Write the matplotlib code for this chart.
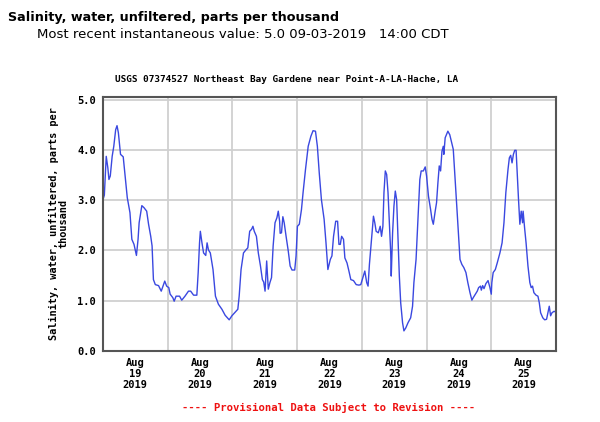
import numpy as np
import pandas as pd
import matplotlib
matplotlib.use("Agg")
import matplotlib.pyplot as plt
import matplotlib.dates as mdates

# hours since 2019-08-19 00:00 CDT and salinity (ppt)
hours = [0, 0.5, 1.2, 1.8, 2.2, 2.7, 3.4, 4.0, 4.7, 5.2, 5.7, 6.5, 7.5, 8.2, 9.0, 10.0, 10.7,
         11.5, 12.4, 13.0, 13.4, 14.4, 15.2, 16.2, 16.9, 17.7, 18.2, 18.7, 19.4, 20.6, 21.6,
         22.9, 23.6, 24.4, 24.9, 25.9, 26.4, 27.1, 28.4, 29.2, 30.4, 31.7, 32.5, 33.6, 34.8,
         35.3, 35.8, 36.1, 36.7, 37.3, 38.1, 38.6, 39.1, 39.8, 40.8, 41.7, 42.8, 44.1, 45.3,
         46.8, 47.8, 49.0, 50.0, 50.5, 51.2, 52.1, 53.0, 53.7, 54.4, 55.1, 55.6, 56.1, 56.9,
         57.6, 58.4, 59.1, 59.6, 60.1, 60.7, 61.3, 61.9, 62.5, 63.1, 63.8, 64.5, 65.0, 65.5,
         65.7, 66.2, 66.7, 67.2, 67.9, 68.7, 69.4, 70.1, 71.1, 71.6, 72.1, 72.8, 73.6, 74.2,
         75.1, 76.1, 77.1, 77.9, 78.8, 79.5, 80.2, 81.0, 82.0, 82.7, 83.4, 84.3, 84.9, 85.5,
         86.3, 87.0, 87.5, 88.0, 88.5, 89.2, 89.7, 90.5, 91.2, 91.9, 92.9, 93.9, 94.9, 95.6,
         96.4, 97.1, 97.8, 98.3, 98.8, 99.6, 100.3, 100.8, 101.3, 102.1, 102.8, 103.3, 103.8,
         104.2, 104.7, 105.2, 105.7, 106.2, 106.7, 106.9, 107.4, 107.9, 108.4, 108.9, 109.4,
         109.9, 110.4, 111.1, 111.6, 112.3, 113.1, 114.1, 114.8, 115.3, 116.1, 116.5, 117.0,
         117.5, 118.0, 118.8, 119.5, 120.0, 120.7, 121.5, 122.0, 122.5, 123.2, 123.7, 124.2,
         124.7, 125.2, 125.7, 126.2, 126.4, 126.9, 127.9, 128.6, 129.3, 129.9, 130.5, 131.2,
         131.9, 132.4, 133.1, 133.8, 134.6, 135.3, 136.1, 136.8, 137.3, 138.1, 138.8, 139.3,
         140.0, 140.3, 140.8, 141.3, 142.0, 142.8, 143.5, 144.0, 144.2, 144.7, 145.5, 146.2,
         147.2, 148.0, 148.7, 149.4, 150.2, 150.7, 151.2, 151.7, 152.2, 152.7, 153.2, 153.6,
         154.1, 154.6, 155.1, 155.6, 155.8, 156.4, 156.9, 157.6, 158.3, 158.8, 159.3, 159.8,
         160.6, 161.3, 161.8, 162.3, 163.1, 163.8, 164.5, 165.0, 165.5, 166.0, 166.5, 167.3,
         168.0]
salinity = [3.01, 3.10, 3.87, 3.64, 3.41, 3.48, 3.87, 4.07, 4.40, 4.48, 4.34, 3.91, 3.86, 3.48,
            3.05, 2.75, 2.22, 2.12, 1.90, 2.22, 2.55, 2.89, 2.85, 2.78, 2.52, 2.28, 2.09, 1.42,
            1.32, 1.30, 1.19, 1.39, 1.29, 1.26, 1.13, 1.06, 0.99, 1.09, 1.09, 1.01, 1.09, 1.19,
            1.19, 1.11, 1.11, 1.56, 2.15, 2.38, 2.15, 1.95, 1.90, 2.15, 2.01, 1.95, 1.62, 1.09,
            0.93, 0.83, 0.71, 0.62, 0.70, 0.77, 0.83, 1.09, 1.62, 1.95, 2.01, 2.05, 2.38, 2.42,
            2.48, 2.38, 2.28, 1.95, 1.69, 1.42, 1.37, 1.19, 1.79, 1.23, 1.36, 1.46, 2.09, 2.55,
            2.65, 2.78, 2.58, 2.34, 2.35, 2.67, 2.55, 2.28, 1.99, 1.69, 1.61, 1.61, 1.89, 2.48,
            2.52, 2.81, 3.15, 3.61, 4.07, 4.27, 4.38, 4.37, 4.07, 3.54, 3.01, 2.62, 2.15, 1.62,
            1.82, 1.89, 2.28, 2.58, 2.58, 2.12, 2.12, 2.28, 2.22, 1.85, 1.75, 1.59, 1.42, 1.40,
            1.32, 1.31, 1.32, 1.46, 1.59, 1.36, 1.29, 1.72, 2.22, 2.68, 2.55, 2.38, 2.35, 2.48,
            2.28, 2.48, 3.15, 3.58, 3.51, 3.15, 2.55, 1.95, 1.49, 2.35, 2.88, 3.18, 3.01, 2.28,
            1.49, 0.96, 0.56, 0.40, 0.46, 0.56, 0.66, 0.89, 1.36, 1.82, 2.28, 2.81, 3.41, 3.58,
            3.58, 3.66, 3.48, 3.08, 2.81, 2.62, 2.52, 2.78, 2.95, 3.34, 3.68, 3.58, 3.97, 4.07,
            3.91, 4.24, 4.37, 4.30, 4.14, 4.01, 3.48, 2.88, 2.28, 1.82, 1.72, 1.66, 1.56, 1.36,
            1.16, 1.01, 1.06, 1.13, 1.19, 1.26, 1.29, 1.21, 1.30, 1.24, 1.34, 1.40, 1.26, 1.13,
            1.36, 1.56, 1.62, 1.75, 1.95, 2.15, 2.55, 3.15, 3.61, 3.84, 3.89, 3.74, 3.91, 3.99,
            3.99, 3.54, 3.01, 2.52, 2.78, 2.55, 2.78, 2.42, 2.15, 1.69, 1.36, 1.26, 1.29, 1.16,
            1.11, 1.09, 0.96, 0.76, 0.66, 0.62, 0.63, 0.76, 0.89, 0.70, 0.76, 0.79, 0.77]

start = pd.Timestamp("2019-08-19 00:00")
times = start + pd.to_timedelta(hours, unit="h")

day_labels = ["Aug\n19\n2019", "Aug\n20\n2019", "Aug\n21\n2019", "Aug\n22\n2019",
              "Aug\n23\n2019", "Aug\n24\n2019", "Aug\n25\n2019"]
y_ticks = [0, 1, 2, 3, 4, 5]
y_tick_labels = ["0.0", "1.0", "2.0", "3.0", "4.0", "5.0"]

mono = "DejaVu Sans Mono"

fig = plt.figure(figsize=(6.0, 4.22), dpi=100)
ax = fig.add_axes([103 / 600, 1 - 351 / 422, 453 / 600, 254 / 422])

ax.plot(times, salinity, color="#3a48e0", linewidth=1.0)

ax.set_xlim(start, start + pd.Timedelta(days=7))
ax.set_ylim(0, 5.05)

# gridlines at midnight, labels centred at noon
midnights = [start + pd.Timedelta(days=i) for i in range(1, 7)]
ax.set_xticks(midnights)
ax.set_xticklabels([])
noons = [start + pd.Timedelta(hours=12 + 24 * i) for i in range(7)]
ax.set_xticks(noons, minor=True)
ax.set_xticklabels(day_labels, minor=True, fontfamily=mono, fontweight="bold",
                   fontsize=7.5, linespacing=1.15)

ax.set_yticks(y_ticks)
ax.set_yticklabels(y_tick_labels, fontfamily=mono, fontweight="bold", fontsize=7.5)

ax.tick_params(which="both", length=0, pad=5)
ax.grid(True, which="major", color="#d0d0d0", linewidth=1.3)
for s in ax.spines.values():
    s.set_color("#555555")
    s.set_linewidth(1.5)

ax.set_ylabel("Salinity, water, unfiltered, parts per\nthousand", fontfamily=mono,
              fontweight="bold", fontsize=7.4, linespacing=1.05, labelpad=6)

fig.text(8 / 600, 1 - 17 / 422, "Salinity, water, unfiltered, parts per thousand",
         fontsize=9.2, fontweight="bold", va="center", ha="left")
fig.text(37 / 600, 1 - 35 / 422,
         "Most recent instantaneous value: 5.0 09-03-2019   14:00 CDT",
         fontsize=9.5, va="center", ha="left")
fig.text(287 / 600, 1 - 80 / 422,
         "USGS 07374527 Northeast Bay Gardene near Point-A-LA-Hache, LA",
         fontfamily=mono, fontweight="bold", fontsize=6.75, va="center", ha="center")
fig.text(329 / 600, 1 - 407 / 422, "---- Provisional Data Subject to Revision ----",
         fontfamily=mono, fontweight="bold", fontsize=7.7, color="#ee1111",
         va="center", ha="center")

fig.savefig("out.png", dpi=100)
